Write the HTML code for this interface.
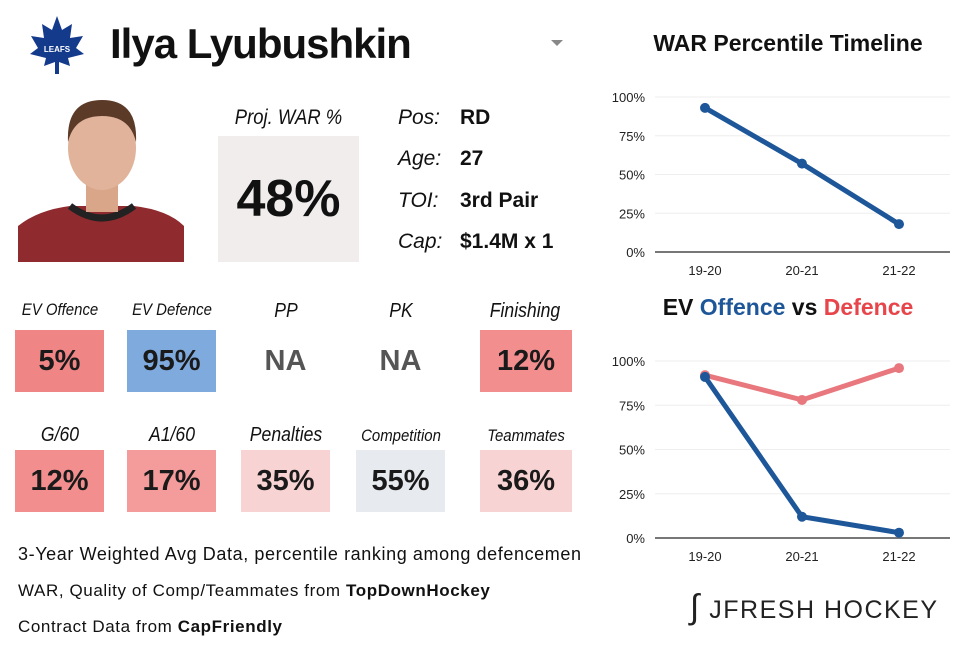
<!DOCTYPE html>
<html><head><meta charset="utf-8"><style>
body{margin:0;width:976px;height:658px;background:#fff;font-family:"Liberation Sans",sans-serif;position:relative;overflow:hidden;color:#111}
.a{position:absolute}
.lab{position:absolute;font-style:italic;font-size:18px;text-align:center;transform:scaleX(.88)}
.tile{position:absolute;width:89px;height:62px;font-weight:bold;font-size:29px;display:flex;align-items:center;justify-content:center;color:#1a1a1a}
.info{position:absolute;font-size:21px}
.info i{display:inline-block;width:62px}
.info b{font-size:21px}
.foot{position:absolute;left:18px;font-size:17px;letter-spacing:.3px}
</style></head><body>
<svg class="a" style="left:28px;top:14px" width="58" height="62" viewBox="0 0 58 62"><path d="M29 2 L34 16 L44 10 L42 24 L55 22 L48 34 L56 40 L40 44 L42 52 L31 48 L31 60 L27 60 L27 48 L16 52 L18 44 L2 40 L10 34 L3 22 L16 24 L14 10 L24 16Z" fill="#143a8c"/><text x="29" y="38" font-size="8" fill="#fff" text-anchor="middle" font-weight="bold">LEAFS</text></svg>
<div class="a" style="left:110px;top:20px;font-size:42px;font-weight:bold;letter-spacing:-1px">Ilya Lyubushkin</div>
<div class="a" style="left:551px;top:40px;width:0;height:0;border-left:6px solid transparent;border-right:6px solid transparent;border-top:6px solid #888"></div>
<svg class="a" style="left:18px;top:98px" width="168" height="164"><path d="M0 164 L0 128 Q20 112 52 108 L116 108 Q150 112 166 128 L166 164Z" fill="#8f2a2f"/><path d="M52 108 Q84 132 116 108" fill="none" stroke="#222" stroke-width="7"/><rect x="68" y="80" width="32" height="34" fill="#d9a68a"/><ellipse cx="84" cy="50" rx="34" ry="42" fill="#e0b39a"/><path d="M50 44 Q48 2 84 2 Q120 2 118 44 Q112 18 84 18 Q56 18 50 44Z" fill="#5b3a28"/></svg>
<div class="lab" style="left:216px;top:106px;width:145px;font-size:21px">Proj. WAR %</div>
<div class="a" style="left:218px;top:136px;width:141px;height:126px;background:#f1eded;display:flex;align-items:center;justify-content:center;font-weight:bold;font-size:52px">48%</div>
<div class="info" style="left:398px;top:106px"><i>Pos:</i><b>RD</b></div>
<div class="info" style="left:398px;top:147px"><i>Age:</i><b>27</b></div>
<div class="info" style="left:398px;top:189px"><i>TOI:</i><b>3rd Pair</b></div>
<div class="info" style="left:398px;top:230px"><i>Cap:</i><b>$1.4M x 1</b></div>

<div class="lab" style="left:10px;top:300px;width:100px;font-size:17px">EV Offence</div>
<div class="tile" style="left:15px;top:330px;background:#f08585">5%</div>
<div class="lab" style="left:122px;top:300px;width:100px;font-size:17px">EV Defence</div>
<div class="tile" style="left:127px;top:330px;background:#7eaadd">95%</div>
<div class="lab" style="left:236px;top:300px;width:100px;font-size:20px">PP</div>
<div class="tile" style="left:241px;top:330px;color:#555">NA</div>
<div class="lab" style="left:351px;top:300px;width:100px;font-size:20px">PK</div>
<div class="tile" style="left:356px;top:330px;color:#555">NA</div>
<div class="lab" style="left:472px;top:300px;width:106px;font-size:20px">Finishing</div>
<div class="tile" style="left:480px;top:330px;width:92px;background:#f28e8e">12%</div>

<div class="lab" style="left:10px;top:424px;width:100px;font-size:20px">G/60</div>
<div class="tile" style="left:15px;top:450px;background:#f28e8e">12%</div>
<div class="lab" style="left:122px;top:424px;width:100px;font-size:20px">A1/60</div>
<div class="tile" style="left:127px;top:450px;background:#f49c9c">17%</div>
<div class="lab" style="left:230px;top:424px;width:112px;font-size:20px">Penalties</div>
<div class="tile" style="left:241px;top:450px;background:#f8d3d3">35%</div>
<div class="lab" style="left:345px;top:426px;width:112px;font-size:17px">Competition</div>
<div class="tile" style="left:356px;top:450px;background:#e7ebf0">55%</div>
<div class="lab" style="left:470px;top:426px;width:112px;font-size:17px">Teammates</div>
<div class="tile" style="left:480px;top:450px;width:92px;background:#f8d3d3">36%</div>

<div class="foot" style="top:544px;font-size:18px;letter-spacing:.6px">3-Year Weighted Avg Data, percentile ranking among defencemen</div>
<div class="foot" style="top:581px;letter-spacing:.6px">WAR, Quality of Comp/Teammates from <b>TopDownHockey</b></div>
<div class="foot" style="top:617px;letter-spacing:.6px">Contract Data from <b>CapFriendly</b></div>
<div class="a" style="left:690px;top:588px;font-size:25px;letter-spacing:1.5px;color:#222"><span style="font-size:34px;font-style:italic">∫</span>&nbsp;JFRESH HOCKEY</div>

<div class="a" style="left:600px;top:30px;width:376px;text-align:center;font-weight:bold;font-size:23px">WAR Percentile Timeline</div>
<div class="a" style="left:600px;top:294px;width:376px;text-align:center;font-weight:bold;font-size:23px">EV <span style="color:#1e5799">Offence</span> vs <span style="color:#e8454b">Defence</span></div>
<svg class="a" id="charts" style="left:0;top:0" width="976" height="658"></svg>
<script>
const seasons=["19-20","20-21","21-22"];
const warPct=[93,57,18];
const evOff=[91,12,3];
const evDef=[92,78,96];
const ticks=[0,25,50,75,100];
const NS="http://www.w3.org/2000/svg",svg=document.getElementById('charts');
function mk(t,a){const e=document.createElementNS(NS,t);for(const k in a)e.setAttribute(k,a[k]);svg.appendChild(e);return e;}
const xS=i=>705+i*97;
function chart(top,bot,series,name){
  const y=v=>bot-(v/100)*(bot-top);
  ticks.forEach(t=>{
    const l=mk('line',{x1:655,x2:950,y1:y(t),y2:y(t),stroke:t?'#eee':'#777','stroke-width':t?1:2});
    
    
    const tx=mk('text',{x:645,y:y(t)+5,'font-size':13,'text-anchor':'end',fill:'#222'});tx.textContent=t+'%';
    
    
  });
  seasons.forEach((s,i)=>{const tx=mk('text',{x:xS(i),y:bot+23,'font-size':13,'text-anchor':'middle',fill:'#222'});tx.textContent=s;
    
    });
  series.forEach(([vals,col,sn])=>{
    const p=mk('polyline',{points:vals.map((v,i)=>xS(i)+','+y(v)).join(' '),fill:'none',stroke:col,'stroke-width':5});
    
    
    vals.forEach((v,i)=>{const c=mk('circle',{cx:xS(i),cy:y(v),r:5,fill:col});
      
      });
  });
}
chart(97,252,[[warPct,'#1e5799','war']],'war-chart');
chart(361,538,[[evDef,'#e8787e','ev-defence'],[evOff,'#1e5799','ev-offence']],'ev-chart');
</script>
</body></html>
